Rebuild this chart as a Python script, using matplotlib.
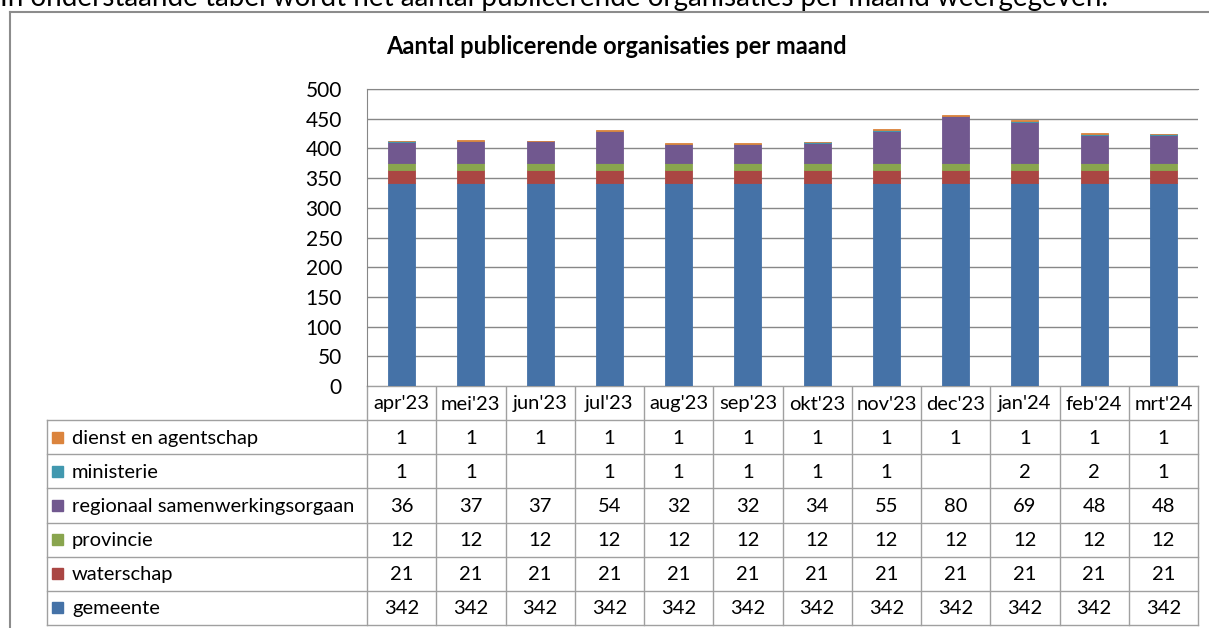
import matplotlib.pyplot as plt
import numpy as np

plt.rcParams['font.family'] = ['Lato', 'DejaVu Sans']

months = ["apr'23", "mei'23", "jun'23", "jul'23", "aug'23", "sep'23",
          "okt'23", "nov'23", "dec'23", "jan'24", "feb'24", "mrt'24"]

gemeente = [342, 342, 342, 342, 342, 342, 342, 342, 342, 342, 342, 342]
waterschap = [21, 21, 21, 21, 21, 21, 21, 21, 21, 21, 21, 21]
provincie = [12, 12, 12, 12, 12, 12, 12, 12, 12, 12, 12, 12]
regionaal = [36, 37, 37, 54, 32, 32, 34, 55, 80, 69, 48, 48]
ministerie = [1, 1, None, 1, 1, 1, 1, 1, None, 2, 2, 1]
dienst = [1, 1, 1, 1, 1, 1, 1, 1, 1, 1, 1, 1]

series_names = ["gemeente", "waterschap", "provincie",
                "regionaal samenwerkingsorgaan", "ministerie",
                "dienst en agentschap"]
series_values = [gemeente, waterschap, provincie, regionaal, ministerie, dienst]
colors = ["#4572A7", "#AA4643", "#89A54E", "#71588F", "#4198AF", "#DB843D"]

W, H = 1209, 628
fig = plt.figure(figsize=(W / 100, H / 100), dpi=100)

# overlay axes in pixel coordinates for box, table and text
bg = fig.add_axes([0, 0, 1, 1])
bg.set_xlim(0, W)
bg.set_ylim(H, 0)
bg.axis('off')

# plot area
px0, px1, py0, py1 = 367, 1198, 89, 386
ax = fig.add_axes([px0 / W, 1 - py1 / H, (px1 - px0) / W, (py1 - py0) / H])
x = np.arange(len(months))
bottom = np.zeros(len(months))
for vals, c in zip(series_values, colors):
    v = np.array([0 if a is None else a for a in vals], dtype=float)
    ax.bar(x, v, 0.39, bottom=bottom, color=c, zorder=3,
           edgecolor=[c if a else 'none' for a in v], linewidth=0.6)
    bottom += v
ax.set_xlim(-0.5, len(months) - 0.5)
ax.set_ylim(0, 500)
ax.set_yticks(range(0, 501, 50))
ax.set_yticklabels([str(t) for t in range(0, 501, 50)], fontsize=15)
ax.tick_params(axis='y', length=0, pad=18)
ax.set_xticks([])
ax.grid(axis='y', color='#878787', linewidth=1, zorder=0)
for s in ['right', 'bottom']:
    ax.spines[s].set_visible(False)
ax.spines['top'].set_color('#878787')
ax.spines['left'].set_color('#878787')

# outer box and intro text
bg.plot([10, W], [12, 12], color='#8c8c8c', lw=1.5)
bg.plot([10, 10], [12, H], color='#8c8c8c', lw=1.5)
bg.text(0, 6, "In onderstaande tabel wordt het aantal publicerende organisaties per maand weergegeven.",
        fontsize=20, va='baseline', ha='left', color='black')
bg.text(616, 46, "Aantal publicerende organisaties per maand",
        fontsize=17, fontweight='bold', ha='center', va='center')

# data table
lc = '#a0a0a0'
col_w = (px1 - px0) / len(months)
hy0, hy1 = 386, 420
row_h = (625 - hy1) / 6
lx0 = 47
fs = 14.5
bg.plot([px0, px1], [hy0, hy0], color=lc, lw=1)
for i in range(len(months) + 1):
    bg.plot([px0 + i * col_w] * 2, [hy0, 625], color=lc, lw=1)
bg.plot([lx0, lx0], [hy1, 625], color=lc, lw=1)
for r in range(7):
    bg.plot([lx0, px1], [hy1 + r * row_h] * 2, color=lc, lw=1)
for i, m in enumerate(months):
    bg.text(px0 + (i + 0.5) * col_w, (hy0 + hy1) / 2 + 1, m, fontsize=fs,
            ha='center', va='center')
rows = list(zip(series_names, series_values, colors))[::-1]
for r, (name, vals, c) in enumerate(rows):
    yc = hy1 + (r + 0.5) * row_h
    bg.add_patch(plt.Rectangle((52, yc - 5.5), 11, 11, color=c))
    bg.text(72, yc + 1, name, fontsize=fs, ha='left', va='center')
    for i, v in enumerate(vals):
        if v is not None:
            bg.text(px0 + (i + 0.5) * col_w, yc + 1, str(v), fontsize=fs,
                    ha='center', va='center')

fig.savefig("out.png", dpi=100)
